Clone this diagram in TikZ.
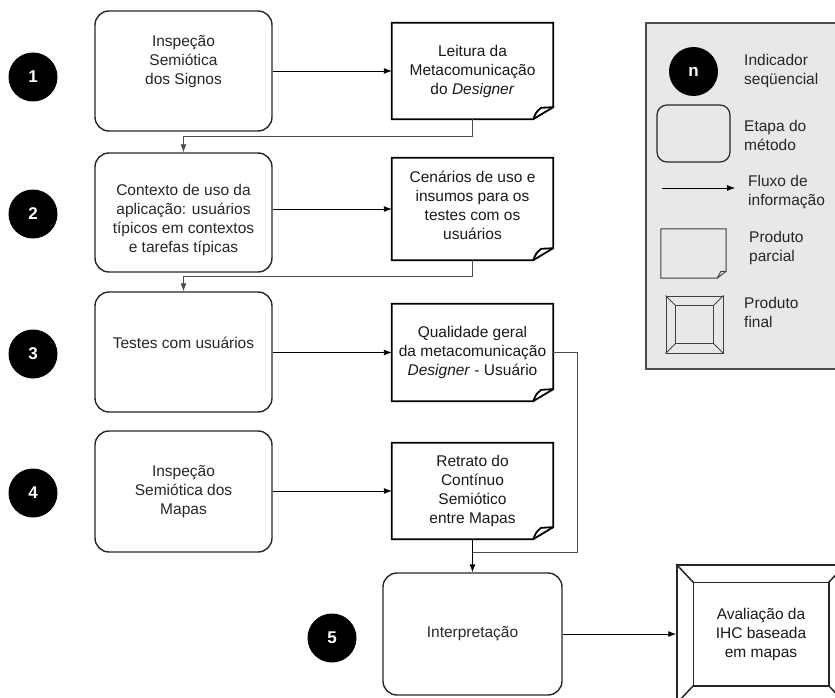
\documentclass[tikz,border=0pt]{standalone}
\usepackage{fontspec}
\setmainfont{Liberation Sans}
\usetikzlibrary{arrows.meta,calc}

% outline of a partial product: sheet with a curled lower right corner
\newcommand{\docfold}[4][docline]{%
  \draw[#1] (#2.north west) -- (#2.north east) -- ([yshift=#4]#2.south east)
    -- ([xshift=-#3]#2.south east) -- (#2.south west) -- cycle;
  \draw[#1] ([xshift=-#3]#2.south east) .. controls ([xshift=-0.85*#3,yshift=0.6*#4]#2.south east)
    .. ([xshift=-0.6*#3,yshift=0.95*#4]#2.south east) -- ([yshift=#4]#2.south east);
}
% bevelled frame of a final product
\newcommand{\bevelframe}[4][prodline]{%
  \draw[#1] ([xshift=#3,yshift=-#4]#2.north west) rectangle ([xshift=-#3,yshift=#4]#2.south east);
  \draw[#1] (#2.north west) -- ([xshift=#3,yshift=-#4]#2.north west);
  \draw[#1] (#2.north east) -- ([xshift=-#3,yshift=-#4]#2.north east);
  \draw[#1] (#2.south west) -- ([xshift=#3,yshift=#4]#2.south west);
  \draw[#1] (#2.south east) -- ([xshift=-#3,yshift=#4]#2.south east);
}

\tikzset{
  numcirc/.style={circle,fill=black,text=white,minimum size=49,inner sep=0,
    font=\fontsize{17}{20}\selectfont\bfseries},
  stepbox/.style={draw=black!85,line width=1.4pt,rounded corners=14,inner sep=0},
  steptext/.style={align=center,inner sep=0,text=black!85,
    font=\fontsize{15.5}{19}\selectfont},
  prodbox/.style={inner sep=0,align=center,text=black!90,
    font=\fontsize{15.5}{19}\selectfont},
  docline/.style={line width=1.8pt,line join=miter},
  prodline/.style={line width=1.5pt,draw=black!85},
  flow/.style={-{Latex[length=8pt,width=6pt]},line width=0.9pt},
  back/.style={flow,draw=black!70},
  legtext/.style={anchor=west,align=left,inner sep=0,text=black!85,
    font=\fontsize{15.5}{19}\selectfont}
}

\begin{document}
\begin{tikzpicture}[x=1pt,y=-1pt]
  \useasboundingbox (0,0) rectangle (835,698);
  \clip (0,0) rectangle (835,698);

  % legend
  \node[draw=black!70,fill=black!9,line width=1.2pt,minimum width=200,minimum height=346,
    inner sep=0] (legend) at (746,196) {};
  \node[numcirc] (ln) at (693.5,71.5) {n};
  \node[legtext] (lnt) at (744,71) {Indicador\\seqüencial};
  \node[stepbox,line width=1.2pt,minimum width=73,minimum height=57,rounded corners=10]
    (ls) at (693.5,133.5) {};
  \node[legtext] (lst) at (744,135) {Etapa do\\método};
  \coordinate (la1) at (662,188);
  \coordinate (la2) at (735,188);
  \draw[flow,line width=0.8pt] (la1) -- (la2);
  \node[legtext] (lat) at (748,192) {Fluxo de\\informação};
  \node[inner sep=0,minimum width=65,minimum height=49] (lp) at (693.5,253.5) {};
  \docfold[line width=1pt,draw=black!75]{lp}{9}{7}
  \node[legtext] (lpt) at (749,248) {Produto\\parcial};
  \node[inner sep=0,minimum width=57,minimum height=57,draw=black!75,line width=1pt]
    (lf) at (694.5,324.5) {};
  \bevelframe[line width=1pt,draw=black!75]{lf}{10}{10}
  \node[legtext] (lft) at (744,312) {Produto\\final};

  % sequence indicators
  \node[numcirc] (n1) at (33,77) {1};
  \node[numcirc] (n2) at (33,214) {2};
  \node[numcirc] (n3) at (33,354) {3};
  \node[numcirc] (n4) at (33,493) {4};
  \node[numcirc] (n5) at (332,638) {5};

  % steps of the method
  \node[stepbox,minimum width=177,minimum height=120] (s1) at (183.5,71) {};
  \node[steptext] (s1t) at (183.5,62) {Inspeção\\Semiótica\\dos Signos};
  \node[stepbox,minimum width=177,minimum height=119] (s2) at (183.5,212.5) {};
  \node[steptext] (s2t) at (183.5,220) {Contexto de uso da\\aplicação: usuários\\típicos em contextos\\e tarefas típicas};
  \node[stepbox,minimum width=177,minimum height=120] (s3) at (183.5,352) {};
  \node[steptext] (s3t) at (183.5,343) {Testes com usuários};
  \node[stepbox,minimum width=177,minimum height=121] (s4) at (183.5,491.5) {};
  \node[steptext] (s4t) at (183.5,492) {Inspeção\\Semiótica dos\\Mapas};
  \node[stepbox,minimum width=179,minimum height=122] (s5) at (472.5,634) {};
  \node[steptext] (s5t) at (472.5,634) {Interpretação};

  % partial products
  \node[prodbox,minimum width=161,minimum height=96] (p1) at (472.5,71)
    {Leitura da\\Metacomunicação\\do \textit{Designer}};
  \docfold{p1}{20}{12}
  \node[prodbox,minimum width=161,minimum height=102] (p2) at (472.5,209) {};
  \node[prodbox] (p2t) at (472.5,205) {Cenários de uso e\\insumos para os\\testes com os\\usuários};
  \docfold{p2}{20}{12}
  \node[prodbox,minimum width=161,minimum height=97] (p3) at (472.5,352.5)
    {Qualidade geral\\da metacomunicação\\\textit{Designer} - Usuário};
  \docfold{p3}{20}{12}
  \node[prodbox,minimum width=161,minimum height=96] (p4) at (472.5,491)
    {Retrato do\\Contínuo\\Semiótico\\entre Mapas};
  \docfold{p4}{20}{12}

  % final product
  \node[prodbox,draw=black!85,line width=1.5pt,minimum width=168,minimum height=138] (f) at (761,634)
    {Avaliação da\\IHC baseada\\em mapas};
  \bevelframe{f}{17}{18}

  % information flow
  \draw[flow] (s1.east |- p1) -- (p1.west);
  \draw[flow] (s2.east |- p2) -- (p2.west);
  \draw[flow] (s3.east |- p3) -- (p3.west);
  \draw[flow] (s4.east |- p4) -- (p4.west);
  \draw[flow] (s5.east) -- (f.west);
  \draw[back] (p1.south) -- ++(0,17) -| (s2.north);
  \draw[back] (p2.south) -- ++(0,16) -| (s3.north);
  \coordinate (j) at ([yshift=-13]p4.south);
  \draw[back,-] (p3.east) -- ++(24,0) |- (j);
  \draw[flow] (p4.south) -- (s5.north);
\end{tikzpicture}
\end{document}
